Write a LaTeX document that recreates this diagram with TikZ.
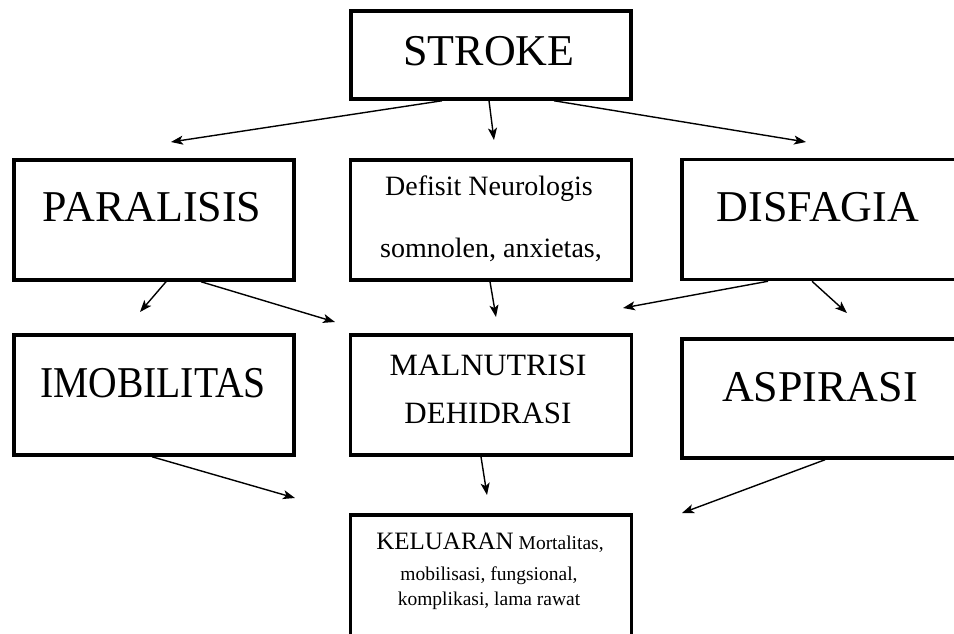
\documentclass[tikz,border=0pt]{standalone}
\usepackage{fontspec}
\setmainfont{Liberation Serif}
\usepackage{tikz}
\usetikzlibrary{arrows.meta}

\newcommand{\hugefont}{\fontsize{44}{50}\selectfont}
\newcommand{\midfont}{\fontsize{28}{34}\selectfont}

\tikzset{
  box/.style={draw=black, line width=3.5pt, rectangle, minimum width=280pt, minimum height=120pt, inner sep=0pt},
  flow/.style={-{Stealth[length=12pt,width=9pt,inset=3pt]}, line width=1.4pt},
  label text/.style={anchor=base, inner sep=0pt},
}

\begin{document}
\begin{tikzpicture}[x=1pt, y=-1pt]
    \clip (0,0) rectangle (954,633);

    % Boxes
    \node[box, minimum height=88pt] (stroke) at (491,55) {};
    \node[box] (paralisis) at (154,220) {};
    \node[box, minimum width=281pt] (defisit) at (491,220) {};
    \node[box, minimum width=284pt] (disfagia) at (824,219.5) {};
    \node[box] (imobilitas) at (154,395) {};
    \node[box, minimum width=281pt] (malnutrisi) at (491,395) {};
    \node[box, minimum width=284pt, minimum height=119pt] (aspirasi) at (824,398.5) {};
    \node[box, minimum width=281pt, minimum height=150pt] (keluaran) at (491,590) {};

    % Texts
    \node[label text, font=\hugefont] (t-stroke) at (489,65) {STROKE};
    \node[label text, font=\hugefont] (t-paralisis) at (152,221) {PARALISIS};
    \node[label text, font=\midfont] (t-defisit1) at (489,195) {Defisit Neurologis};
    \node[label text, font=\midfont] (t-defisit2) at (491,257) {somnolen, anxietas,};
    \node[label text, font=\hugefont] (t-disfagia) at (818,221) {DISFAGIA};
    \node[label text, font=\hugefont] (t-imobilitas) at (153,397) {\scalebox{0.9}[1]{IMOBILITAS}};
    \node[label text, font=\fontsize{31}{36}\selectfont] (t-malnutrisi) at (488,375) {\scalebox{1.03}[1]{MALNUTRISI}};
    \node[label text, font=\fontsize{31}{36}\selectfont] (t-dehidrasi) at (488,423) {DEHIDRASI};
    \node[label text, font=\hugefont] (t-aspirasi) at (820,401) {ASPIRASI};
    \node[label text, font=\fontsize{19.5}{24}\selectfont] (t-keluaran1) at (490,549) {{\fontsize{25}{30}\selectfont KELUARAN} Mortalitas,};
    \node[label text, font=\fontsize{19.5}{24}\selectfont] (t-keluaran2) at (489,580) {mobilisasi, fungsional,};
    \node[label text, font=\fontsize{19.5}{24}\selectfont] (t-keluaran3) at (489,605) {komplikasi, lama rawat};

    % Arrow ends
    \coordinate (e1) at (171,142);
    \coordinate (e2) at (494,140);
    \coordinate (e3) at (806,142);
    \coordinate (e4) at (140,312);
    \coordinate (e5) at (335,322);
    \coordinate (e6) at (496,317);
    \coordinate (e7) at (623,308);
    \coordinate (e8) at (847,313);
    \coordinate (e9) at (295,498);
    \coordinate (e10) at (487,495);
    \coordinate (e11) at (682,513);

    % Arrows
    \draw[flow] ([xshift=-49pt]stroke.south) -- (e1);
    \draw[flow] ([xshift=-2pt]stroke.south) -- (e2);
    \draw[flow] ([xshift=63pt]stroke.south) -- (e3);
    \draw[flow] ([xshift=12pt]paralisis.south) -- (e4);
    \draw[flow] ([xshift=47pt]paralisis.south) -- (e5);
    \draw[flow] ([xshift=-1pt]defisit.south) -- (e6);
    \draw[flow] ([xshift=-56pt]disfagia.south) -- (e7);
    \draw[flow] ([xshift=-12pt]disfagia.south) -- (e8);
    \draw[flow] ([xshift=-2pt]imobilitas.south) -- (e9);
    \draw[flow] ([xshift=-10pt]malnutrisi.south) -- (e10);
    \draw[flow] ([xshift=1pt]aspirasi.south) -- (e11);
\end{tikzpicture}
\end{document}
